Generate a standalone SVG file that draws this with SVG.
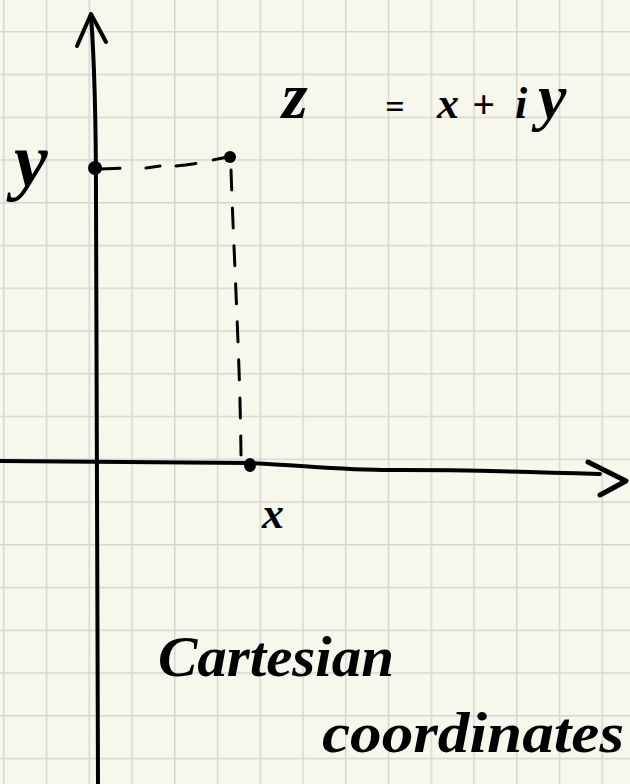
<svg xmlns="http://www.w3.org/2000/svg" width="630" height="784" viewBox="0 0 630 784">
<defs>
<pattern id="grid" x="3" y="31" width="42.75" height="42.75" patternUnits="userSpaceOnUse">
<path d="M0 0 H42.75 M0 0 V42.75" stroke="#d6d5d3" stroke-width="3" fill="none"/>
</pattern>
</defs>
<style>
.ink{stroke:#000;fill:none;stroke-linecap:round;stroke-linejoin:round}
.axis{stroke-width:4}
.dash{stroke-width:3;stroke-dasharray:20 18}
.hand{font-family:"Liberation Serif",serif;font-style:italic;font-weight:bold;fill:#000}
</style>
<rect width="630" height="784" fill="#f8f7ec"/>
<rect width="630" height="784" fill="url(#grid)"/>
<g id="connectors">
<path id="y-axis" class="ink axis" d="M98 784 C97 600 96 400 96 200 C96 120 95 70 91 15"/>
<path class="ink axis" d="M77 46 L91 14 L106 42"/>
<path id="x-axis" class="ink axis" d="M0 461 L250 463 C300 465 350 471 400 470 C480 470 540 472 600 474" stroke-width="5"/>
<path class="ink" stroke-width="5" d="M588 462 L626 481 L600 495"/>
<path id="dash-h" class="ink dash" d="M100 169 L130 168 M146 168 L160 166 M176 166 C195 165 210 160 228 157"/>
<path id="dash-v" class="ink dash" d="M231 170 C234 260 240 360 241 455"/>
</g>
<g id="points">
<circle cx="95" cy="168" r="7" fill="#000"/>
<circle cx="230" cy="157" r="6" fill="#000"/>
<ellipse cx="250" cy="465" rx="6" ry="7" fill="#000"/>
</g>
<g id="labels">
<text class="hand" x="14" y="186" font-size="76">y</text>
<text class="hand" x="262" y="528" font-size="44">x</text>
<text class="hand" font-size="66" y="118"><tspan x="282">z</tspan><tspan x="385" font-size="34">=</tspan><tspan x="437" font-size="44">x</tspan><tspan x="472" font-size="40">+</tspan><tspan x="515" font-size="44">i</tspan><tspan x="538" font-size="64">y</tspan></text>
<text class="hand" x="158" y="676" font-size="56" textLength="236" lengthAdjust="spacingAndGlyphs">Cartesian</text>
<text class="hand" x="322" y="752" font-size="56" textLength="302" lengthAdjust="spacingAndGlyphs">coordinates</text>
</g>
</svg>
